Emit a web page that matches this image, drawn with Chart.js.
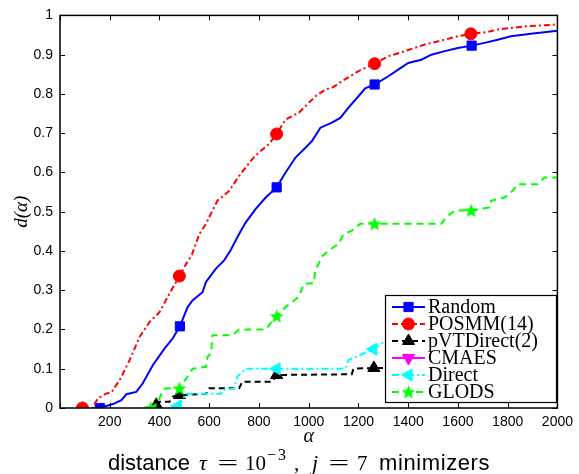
<!DOCTYPE html>
<html>
<head>
<meta charset="utf-8">
<script src="https://cdn.jsdelivr.net/npm/chart.js@4.4.1/dist/chart.umd.min.js"></script>
<style>
  html, body { margin: 0; padding: 0; background: #fff; }
  #wrap { position: relative; width: 579px; height: 474px; }
  #ttl { position: absolute; left: 108px; top: 451px; line-height: 24px; height: 24px;
         font-family: "Liberation Sans", Arial, sans-serif; font-size: 22px; color: #000; white-space: nowrap; }
  #ttl span { display: inline-block; }
  #ttl .s { font-family: "Liberation Sans", Arial, sans-serif; font-size: 22px; }
  #ttl .m { font-family: "Liberation Serif", "DejaVu Serif", serif; font-size: 21px; }
  #ttl .i { font-family: "Liberation Serif", "DejaVu Serif", serif; font-size: 22px; font-style: italic; }
  #ttl .eq { font-family: "Liberation Serif", serif; font-size: 21px; text-align: center; }
  #ttl .eq b { display: inline-block; font-weight: normal; transform: scaleX(1.75); }
  #ttl .sp { position: relative; top: -10px; font-family: "Liberation Serif", serif; font-size: 16px; letter-spacing: 2px; }
</style>
</head>
<body>
<div id="wrap">
  <canvas id="c" width="579" height="474"></canvas>
  <div id="ttl"><span class="s" style="width:88px">distance</span><span class="i" style="width:18px;padding-left:3px;box-sizing:border-box">τ</span><span class="eq" style="width:28px"><b>=</b></span><span class="m" style="width:25px;padding-left:3px;box-sizing:border-box">10</span><span class="sp" style="width:27px">−3</span><span class="m" style="width:12px">,</span><span class="i" style="width:18px;padding-left:6px;box-sizing:border-box">j</span><span class="eq" style="width:29px"><b>=</b></span><span class="m" style="width:26px;padding-left:4px;box-sizing:border-box">7</span><span class="s" style="letter-spacing:0.6px">minimizers</span></div>
</div>
<script>
// ---- data ----
const xTicks = [0, 200, 400, 600, 800, 1000, 1200, 1400, 1600, 1800, 2000];
const yTicks = [0, 0.1, 0.2, 0.3, 0.4, 0.5, 0.6, 0.7, 0.8, 0.9, 1];
const seriesNames = ["Random", "POSMM(14)", "pVTDirect(2)", "CMAES", "Direct", "GLODS"];

const randomX = [160,213,247,267,307,333,373,420,453,482,513,533,573,587,627,660,687,720,747,787,827,871,907,947,987,1013,1047,1093,1127,1160,1200,1227,1265,1320,1360,1400,1453,1493,1547,1600,1655,1707,1760,1813,1893,2000];
const randomY = [0,0.01,0.02,0.035,0.041,0.063,0.109,0.151,0.177,0.208,0.257,0.274,0.295,0.321,0.355,0.376,0.403,0.443,0.473,0.507,0.536,0.562,0.6,0.638,0.663,0.68,0.714,0.727,0.739,0.765,0.794,0.814,0.824,0.845,0.862,0.879,0.887,0.9,0.909,0.917,0.923,0.93,0.938,0.947,0.953,0.961];
const randomMarks = [0, 9, 21, 32, 40];

const posmmX = [90,130,153,187,207,240,280,320,360,400,440,480,507,530,560,587,613,633,680,720,773,800,840,871,907,960,987,1027,1067,1100,1133,1200,1265,1320,1387,1467,1547,1600,1652,1720,1760,1867,2000];
const posmmY = [0,0,0.025,0.037,0.04,0.071,0.122,0.181,0.219,0.244,0.291,0.336,0.367,0.39,0.443,0.469,0.503,0.528,0.553,0.591,0.634,0.651,0.672,0.698,0.735,0.752,0.769,0.794,0.811,0.818,0.832,0.858,0.877,0.896,0.909,0.926,0.938,0.947,0.953,0.958,0.964,0.972,0.977];
const posmmMarks = [0, 11, 23, 32, 38];

const pvtX = [387,400,440,453,480,587,600,720,733,853,871,1173,1180,1262,1300,1450,1650,2000];
const pvtY = [0.008,0.016,0.016,0.029,0.033,0.036,0.05,0.05,0.067,0.067,0.084,0.086,0.1,0.102,0.102,0.11,0.115,0.117];
const pvtMarks = [0, 4, 10, 13, 16];

const cmaesX = [];
const cmaesY = [];
const cmaesMarks = [];

const directX = [473,490,507,647,653,700,713,747,871,1147,1160,1207,1260,1350,1650,2000];
const directY = [0.005,0.02,0.036,0.036,0.046,0.05,0.08,0.1,0.1,0.1,0.122,0.135,0.15,0.19,0.21,0.219];
const directMarks = [0, 8, 12, 14];

const glodsX = [365,393,413,427,480,517,533,587,593,607,613,693,720,827,850,871,907,960,980,1020,1027,1053,1080,1120,1140,1173,1207,1265,1533,1553,1587,1653,1727,1733,1787,1820,1840,1920,1947,2000];
const glodsY = [0,0.012,0.046,0.05,0.05,0.084,0.1,0.105,0.13,0.139,0.185,0.185,0.2,0.2,0.219,0.234,0.257,0.283,0.316,0.318,0.35,0.386,0.401,0.418,0.443,0.452,0.469,0.469,0.469,0.486,0.503,0.503,0.511,0.528,0.536,0.553,0.57,0.57,0.587,0.587];
const glodsMarks = [0, 4, 15, 27, 31];

// ---- star marker image ----
function makeStar(color, R) {
  const s = Math.ceil(R * 2 + 2);
  const cv = document.createElement('canvas');
  cv.width = s; cv.height = s;
  const g = cv.getContext('2d');
  g.beginPath();
  for (let i = 0; i < 10; i++) {
    const r = i % 2 === 0 ? R : R * 0.42;
    const a = -Math.PI / 2 + i * Math.PI / 5;
    const px = s / 2 + r * Math.cos(a), py = s / 2 + r * Math.sin(a) + 0.5;
    if (i === 0) g.moveTo(px, py); else g.lineTo(px, py);
  }
  g.closePath();
  g.fillStyle = color; g.fill();
  return cv;
}
const starImg = makeStar('#00ff00', 7.5);

const styles = [
  { color: '#0000ff', dash: [], point: 'rect', rot: 0, r: 6.5 },
  { color: '#ff0000', dash: [6, 3, 2, 3], point: 'circle', rot: 0, r: 6 },
  { color: '#000000', dash: [6, 4], point: 'triangle', rot: 0, r: 7 },
  { color: '#ff00ff', dash: [], point: 'triangle', rot: 180, r: 7 },
  { color: '#00ffff', dash: [7, 3, 2, 3], point: 'triangle', rot: -90, r: 7 },
  { color: '#00ff00', dash: [7, 5], point: starImg, rot: 0, r: 7 }
];
const xsAll = [randomX, posmmX, pvtX, cmaesX, directX, glodsX];
const ysAll = [randomY, posmmY, pvtY, cmaesY, directY, glodsY];
const marksAll = [randomMarks, posmmMarks, pvtMarks, cmaesMarks, directMarks, glodsMarks];

const datasets = seriesNames.map((name, k) => {
  const st = styles[k];
  const marks = marksAll[k];
  return {
    label: name,
    data: xsAll[k].map((x, i) => ({ x: x, y: ysAll[k][i] })),
    borderColor: st.color,
    backgroundColor: st.color,
    borderWidth: 2,
    borderDash: st.dash,
    tension: 0,
    fill: false,
    pointStyle: st.point,
    rotation: st.rot,
    pointBorderWidth: 1,
    pointRadius: ctx => marks.includes(ctx.dataIndex) ? st.r : 0,
    pointHoverRadius: 0,
    order: 6 - k
  };
});

const TICK = 5;
const framePlugin = {
  id: 'frame',
  afterDraw(chart) {
    const { ctx, chartArea: a, scales } = chart;
    ctx.save();
    ctx.strokeStyle = '#000';
    ctx.lineWidth = 1;
    ctx.setLineDash([]);
    ctx.beginPath();
    xTicks.forEach(v => {
      const px = Math.round(scales.x.getPixelForValue(v)) + 0.5;
      ctx.moveTo(px, a.bottom); ctx.lineTo(px, a.bottom - TICK);
      ctx.moveTo(px, a.top); ctx.lineTo(px, a.top + TICK);
    });
    yTicks.forEach(v => {
      const py = Math.round(scales.y.getPixelForValue(v)) + 0.5;
      ctx.moveTo(a.left, py); ctx.lineTo(a.left + TICK, py);
      ctx.moveTo(a.right, py); ctx.lineTo(a.right - TICK, py);
    });
    ctx.stroke();
    ctx.lineWidth = 1.5;
    ctx.strokeRect(a.left, a.top, a.right - a.left, a.bottom - a.top);

    // legend box
    const lx = 385, ly = 295, lw = 171, lh = 107;
    ctx.fillStyle = '#fff';
    ctx.fillRect(lx, ly, lw, lh);
    ctx.lineWidth = 1.2;
    ctx.strokeStyle = '#000';
    ctx.strokeRect(lx + 0.5, ly + 0.5, lw, lh);
    ctx.font = '20px "Liberation Serif", "Times New Roman", serif';
    ctx.textBaseline = 'middle';
    seriesNames.forEach((name, k) => {
      const st = styles[k];
      const y = ly + 12 + k * 17;
      ctx.save();
      ctx.strokeStyle = st.color;
      ctx.lineWidth = 2;
      ctx.setLineDash(st.dash);
      ctx.beginPath();
      ctx.moveTo(392, y); ctx.lineTo(425, y);
      ctx.stroke();
      ctx.setLineDash([]);
      ctx.fillStyle = st.color;
      ctx.lineWidth = 1;
      Chart.helpers.drawPoint(ctx, { pointStyle: st.point, rotation: st.rot, radius: st.r, borderWidth: 1 }, 408.5, y);
      ctx.restore();
      ctx.fillStyle = '#000';
      ctx.fillText(name, 428, y + 1);
    });
    ctx.restore();
  }
};

new Chart(document.getElementById('c'), {
  type: 'line',
  data: { datasets: datasets },
  options: {
    responsive: false,
    animation: false,
    layout: { padding: { left: 0, right: 19, top: 14, bottom: 22 } },
    plugins: { legend: { display: false }, tooltip: { enabled: false } },
    scales: {
      x: {
        type: 'linear', min: 0, max: 2000,
        afterBuildTicks: s => { s.ticks = xTicks.map(v => ({ value: v })); },
        afterFit: s => { s.height = 44; },
        grid: { display: false, drawTicks: false },
        border: { display: false },
        ticks: { color: '#000', padding: 6, maxRotation: 0, autoSkip: false,
                 font: { family: '"Liberation Sans", Arial, sans-serif', size: 14 },
                 callback: v => v === 0 ? '' : String(v) },
        title: { display: true, text: 'α', color: '#000', padding: { top: 0, bottom: 3 },
                 font: { family: '"Liberation Serif", serif', size: 20, style: 'italic' } }
      },
      y: {
        min: 0, max: 1,
        afterBuildTicks: s => { s.ticks = yTicks.map(v => ({ value: v })); },
        afterFit: s => { s.width = 60; },
        grid: { display: false, drawTicks: false },
        border: { display: false },
        ticks: { color: '#000', padding: 7, autoSkip: false,
                 font: { family: '"Liberation Sans", Arial, sans-serif', size: 14 },
                 callback: v => String(Math.round(v * 10) / 10) },
        title: { display: true, text: 'd(α)', color: '#000', padding: { top: 11, bottom: 0 },
                 font: { family: '"Liberation Serif", serif', size: 19, style: 'italic' } }
      }
    }
  },
  plugins: [framePlugin]
});
</script>
</body>
</html>
